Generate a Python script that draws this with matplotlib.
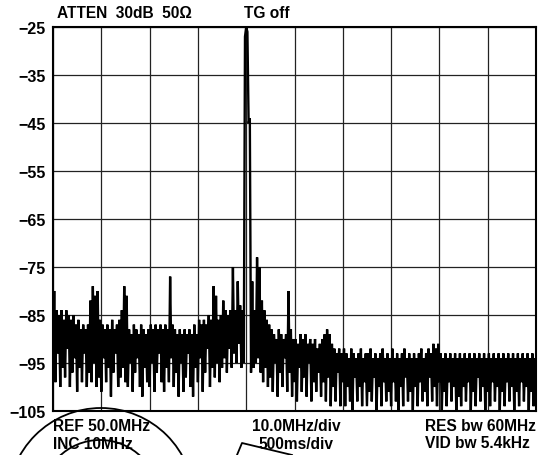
import numpy as np
import matplotlib
matplotlib.use("Agg")
import matplotlib.pyplot as plt
from matplotlib.patches import Circle

# ---- data ----
span_mhz = [0.0, 100.0]          # 10 divisions of 10 MHz
y_ticks = [-25, -35, -45, -55, -65, -75, -85, -95, -105]
y_tick_labels = ["\u221225", "\u221235", "\u221245", "\u221255", "\u221265",
                 "\u221275", "\u221285", "\u221295", "\u2212105"]

# trace level (dB) sampled every 0.25 MHz from 0 to 100 MHz
trace_db = [
    -97, -80, -99, -84, -93, -85, -100, -84, -96, -86, -98, -84, -92, -85, -100, -86, -97, -85, -94, -87,
    -101, -86, -96, -88, -99, -87, -93, -88, -100, -87, -97, -82, -99, -79, -95, -81, -100, -80, -98, -86,
    -101, -87, -94, -88, -99, -87, -96, -88, -102, -86, -97, -88, -93, -87, -100, -86, -98, -84, -96, -79,
    -99, -81, -100, -88, -95, -89, -101, -87, -97, -88, -94, -89, -100, -87, -102, -88, -96, -89, -99, -88,
    -100, -87, -95, -88, -101, -87, -97, -88, -93, -87, -99, -88, -101, -87, -96, -88, -99, -77, -94, -87,
    -100, -88, -97, -89, -102, -88, -95, -89, -101, -88, -98, -89, -93, -88, -100, -89, -102, -87, -96, -89,
    -99, -86, -94, -87, -101, -86, -97, -87, -92, -85, -100, -86, -96, -79, -98, -81, -95, -86, -99, -85,
    -96, -82, -94, -84, -97, -85, -92, -84, -96, -75, -93, -84, -95, -78, -91, -83, -96, -84, -95, -27,
    -25, -26, -45, -44, -97, -78, -96, -84, -95, -73, -94, -75, -97, -82, -99, -84, -96, -86, -100, -87,
    -98, -88, -101, -89, -95, -90, -102, -88, -97, -89, -100, -90, -94, -89, -101, -80, -97, -88, -102, -90,
    -99, -90, -103, -91, -96, -89, -101, -90, -98, -89, -102, -91, -95, -90, -103, -91, -99, -90, -101, -92,
    -97, -91, -102, -90, -99, -89, -103, -88, -98, -89, -104, -91, -100, -92, -103, -93, -97, -92, -104, -93,
    -99, -92, -104, -93, -100, -94, -103, -92, -105, -93, -98, -94, -103, -93, -100, -92, -104, -94, -99, -93,
    -104, -93, -101, -92, -103, -94, -98, -93, -105, -94, -100, -93, -104, -92, -99, -94, -103, -93, -101, -94,
    -104, -92, -99, -94, -103, -93, -105, -94, -100, -93, -104, -92, -98, -94, -103, -93, -101, -94, -105, -93,
    -100, -94, -104, -93, -99, -92, -103, -94, -101, -93, -104, -92, -98, -93, -103, -91, -100, -92, -104, -91,
    -99, -93, -105, -94, -101, -93, -104, -94, -99, -93, -103, -94, -100, -93, -105, -94, -102, -93, -104, -94,
    -100, -93, -103, -94, -99, -93, -105, -94, -101, -93, -104, -94, -98, -93, -103, -94, -100, -93, -105, -94,
    -101, -93, -104, -94, -99, -93, -103, -94, -100, -93, -105, -94, -101, -93, -104, -94, -99, -93, -103, -94,
    -100, -93, -105, -94, -101, -93, -104, -94, -99, -93, -103, -94, -100, -93, -105, -94, -101, -93, -104, -94,
    -95,
]

header_left = "ATTEN  30dB  50\u03a9"
header_mid = "TG off"
footer_left = ["REF 50.0MHz", "INC 10MHz"]
footer_mid = ["10.0MHz/div", "500ms/div"]
footer_right = ["RES bw 60MHz", "VID bw 5.4kHz"]

# ---- figure ----
W, H = 539, 456
plt.rcParams["font.family"] = ["Liberation Sans", "DejaVu Sans"]
fig = plt.figure(figsize=(W / 100, H / 100), dpi=100)
L, R, T, B = 53, 536, 28, 412
ax = fig.add_axes([L / W, 1 - B / H, (R - L) / W, (B - T) / H])

freqs = np.linspace(span_mhz[0], span_mhz[1], len(trace_db))
ax.plot(freqs, trace_db, color="black", lw=1.7, solid_joinstyle="miter", zorder=3)

ax.set_xlim(*span_mhz)
ax.set_ylim(-105, -25)
ax.set_xticks(np.arange(0, 101, 10))
ax.set_yticks(y_ticks)
ax.set_yticklabels(y_tick_labels, fontsize=11.5, fontweight="bold")
ax.tick_params(axis="x", length=0, labelbottom=False)
ax.tick_params(axis="y", length=0, pad=5)
ax.grid(True, color="#222222", lw=0.9, zorder=1)
for s in ax.spines.values():
    s.set_linewidth(1.5)
    s.set_zorder(4)

# ---- text ----
def fx(px):
    return px / W

def fy(py):
    return 1 - py / H

tk = dict(fontsize=11.2, fontweight="bold", va="center", color="black")
fig.text(fx(57), fy(13), header_left, ha="left", **tk)
fig.text(fx(244), fy(13), header_mid, ha="left", **tk)
fig.text(fx(53), fy(427), footer_left[0], ha="left", **tk)
fig.text(fx(53), fy(445), footer_left[1], ha="left", **tk)
fig.text(fx(296), fy(427), footer_mid[0], ha="center", **tk)
fig.text(fx(296), fy(445), footer_mid[1], ha="center", **tk)
fig.text(fx(425), fy(427), footer_right[0], ha="left", **tk)
fig.text(fx(425), fy(444), footer_right[1], ha="left", **tk)

# ---- decorative knob outlines at bottom ----
ov = fig.add_axes([0, 0, 1, 1], facecolor="none")
ov.set_xlim(0, W)
ov.set_ylim(H, 0)
ov.axis("off")
ov.add_patch(Circle((101, 502), 93, fill=False, lw=1.3, ec="black"))
ov.add_patch(Circle((100, 500), 59, fill=False, lw=1.3, ec="black"))
ov.plot([237, 242, 292], [456, 444, 456], color="black", lw=1.3)

fig.savefig("out.png", dpi=100)
